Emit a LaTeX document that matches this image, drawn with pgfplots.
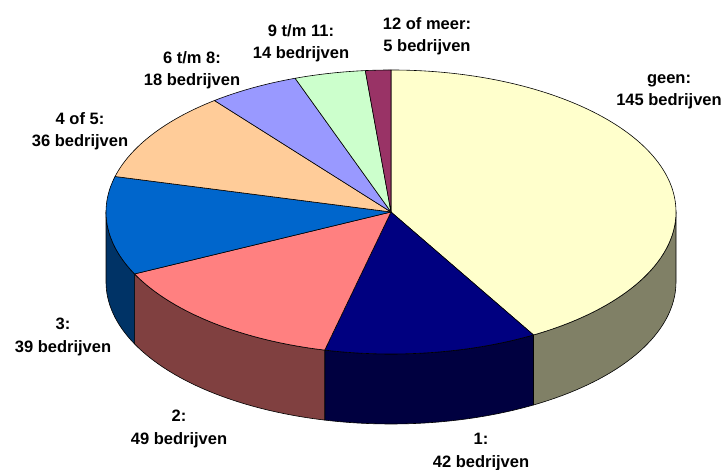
\documentclass[border=0pt]{standalone}
\usepackage{fontspec}
\setmainfont{Liberation Sans}
\usepackage{pgfplots}
\usepackage{pgfplotstable}
\pgfplotsset{compat=1.18}

\pgfplotstableread{
value
145
42
49
39
36
18
14
5
}\piedata

\definecolor{c0}{HTML}{FFFFCC}
\definecolor{c1}{HTML}{000080}
\definecolor{c2}{HTML}{FF8080}
\definecolor{c3}{HTML}{0066CC}
\definecolor{c4}{HTML}{FFCC99}
\definecolor{c5}{HTML}{9999FF}
\definecolor{c6}{HTML}{CCFFCC}
\definecolor{c7}{HTML}{993366}

\begin{document}
\begin{tikzpicture}
\pgfplotstablegetrowsof{\piedata}
\pgfmathtruncatemacro\nrows{\pgfplotsretval-1}
\gdef\total{0}
\foreach \i in {0,...,\nrows}{
  \pgfplotstablegetelem{\i}{value}\of\piedata
  \pgfmathsetmacro\tmp{\total+\pgfplotsretval}
  \xdef\total{\tmp}
}
\gdef\cum{0}
\foreach \i in {0,...,\nrows}{
  \pgfplotstablegetelem{\i}{value}\of\piedata
  \pgfmathsetmacro\a{90-(\cum/\total)*360}
  \pgfmathsetmacro\newcum{\cum+\pgfplotsretval}
  \pgfmathsetmacro\b{90-(\newcum/\total)*360}
  \pgfmathsetmacro\vs{min(\a,0)}
  \pgfmathsetmacro\ve{max(\b,-180)}
  \expandafter\xdef\csname sa\i\endcsname{\a}
  \expandafter\xdef\csname ea\i\endcsname{\b}
  \expandafter\xdef\csname vs\i\endcsname{\vs}
  \expandafter\xdef\csname ve\i\endcsname{\ve}
  \xdef\cum{\newcum}
}
\useasboundingbox (0,0) rectangle (726pt,470pt);
\begin{axis}[at={(0,0)}, anchor=south west, scale only axis,
  width=726pt, height=470pt, xmin=0, xmax=726, ymin=0, ymax=470,
  hide axis, clip=false]
% front side walls
\pgfplotsinvokeforeach{0,...,7}{
  \ifdim\csname vs#1\endcsname pt>\csname ve#1\endcsname pt
    \filldraw[fill=c#1!50!black, draw=black, line width=0.6pt, line join=round]
      (axis cs:391,258) ++(\csname vs#1\endcsname:285pt and 142pt)
      arc[start angle=\csname vs#1\endcsname, end angle=\csname ve#1\endcsname, x radius=285pt, y radius=142pt]
      -- ++(0pt,-70pt)
      arc[start angle=\csname ve#1\endcsname, end angle=\csname vs#1\endcsname, x radius=285pt, y radius=142pt]
      -- cycle;
  \fi
}
% top faces
\pgfplotsinvokeforeach{0,...,7}{
  \filldraw[fill=c#1, draw=black, line width=0.6pt, line join=round]
    (axis cs:391,258) -- ++(\csname sa#1\endcsname:285pt and 142pt)
    arc[start angle=\csname sa#1\endcsname, end angle=\csname ea#1\endcsname, x radius=285pt, y radius=142pt]
    -- cycle;
}
\tikzset{lbl/.style={align=center, inner sep=0pt, font=\bfseries\fontsize{16.5}{22.5}\selectfont}}
\node[lbl] at (axis cs:669,378) {geen:\\145 bedrijven};
\node[lbl] at (axis cs:427,434) {12 of meer:\\5 bedrijven};
\node[lbl] at (axis cs:301,427) {9 t/m 11:\\14 bedrijven};
\node[lbl] at (axis cs:192,400) {6 t/m 8:\\18 bedrijven};
\node[lbl] at (axis cs:80,339) {4 of 5:\\36 bedrijven};
\node[lbl] at (axis cs:63,133) {3:\\39 bedrijven};
\node[lbl] at (axis cs:179,41) {2:\\49 bedrijven};
\node[lbl] at (axis cs:481,18) {1:\\42 bedrijven};
\end{axis}
\end{tikzpicture}
\end{document}
